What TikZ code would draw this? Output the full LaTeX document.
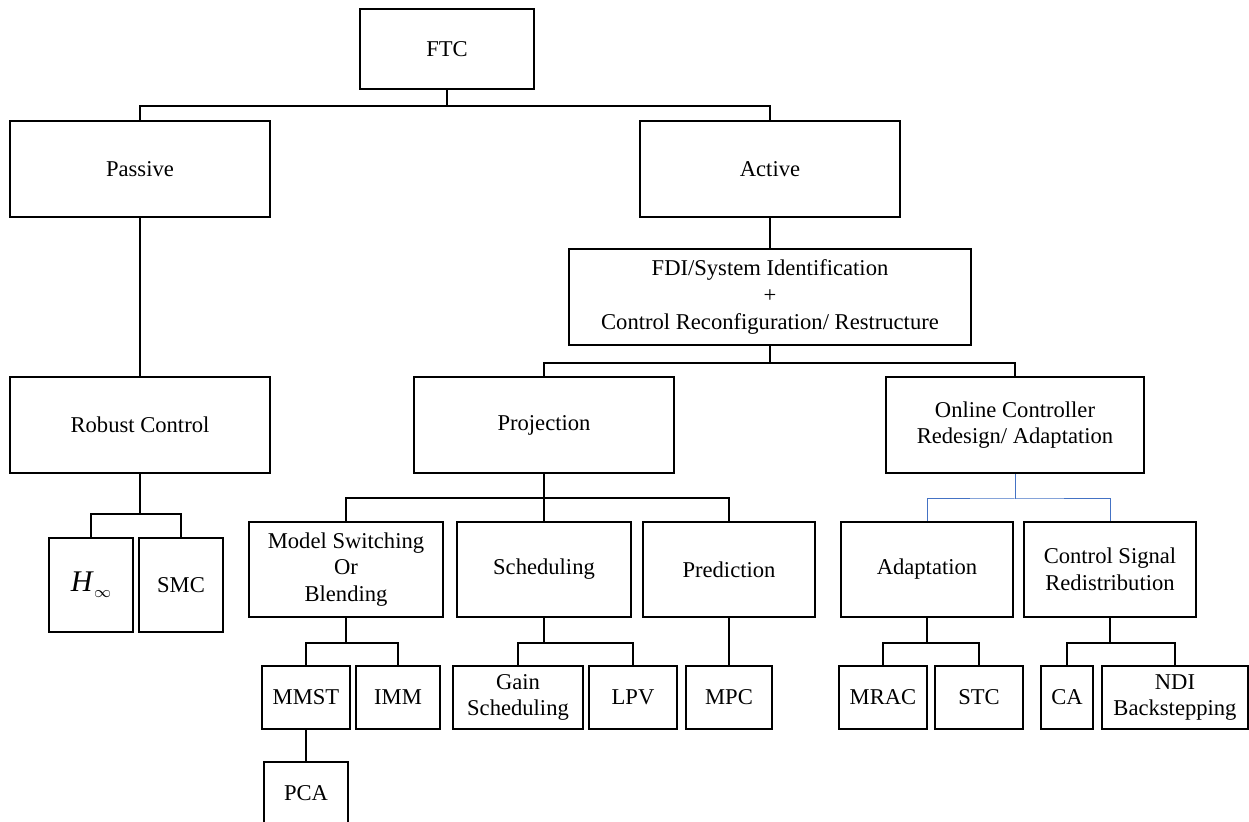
\documentclass[tikz,border=0pt]{standalone}
\usepackage{fontspec}
\setmainfont{Liberation Serif}
\usepackage{tikz}

\begin{document}
\begin{tikzpicture}[x=0.5pt,y=-0.5pt,
		blk/.style={draw, line width=1pt, align=center, inner sep=0pt,
			font=\fontsize{11.3}{13.3}\selectfont},
		lnk/.style={line width=1pt},
		bluelnk/.style={line width=0.5pt, draw=linkblue}]
		\definecolor{linkblue}{RGB}{68,114,196}
		\useasboundingbox (0,0) rectangle (1249,822);
		\clip (0,0) rectangle (1249,822);
		%\draw [help lines] (0,0) grid[step=50] (1249,822);
		\node [blk, minimum width=87pt, minimum height=40pt] (ftc) at (447,49) {FTC};
		\node [blk, minimum width=130pt, minimum height=48pt] (passive) at (140,169) {Passive};
		\node [blk, minimum width=130pt, minimum height=48pt] (active) at (770,169) {Active};
		\node [blk, minimum width=201pt, minimum height=48pt] (fdi) at (770,297) {FDI/System Identification\\+\\Control Reconfiguration/ Restructure};
		
		\node [blk, minimum width=130pt, minimum height=48pt] (robust) at (140,425) {Robust Control};
		\node [blk, minimum width=130pt, minimum height=48pt] (proj) at (544,425) {Projection};
		\node [blk, minimum width=129pt, minimum height=48pt] (online) at (1015,425) {Online Controller\\Redesign/ Adaptation};
		
		\node [blk, minimum width=42pt, minimum height=47pt] (hinf) at (91,585) {{\fontsize{15}{16}\selectfont\textit{H}}\raisebox{-0.6ex}{\fontsize{8}{8}\selectfont$\infty$}};
		\node [blk, minimum width=42pt, minimum height=47pt] (smc) at (181,585) {SMC};
		
		\node [blk, minimum width=97pt, minimum height=47.5pt] (msw) at (346,569.5) {Model Switching\\Or\\Blending};
		\node [blk, minimum width=87pt, minimum height=47.5pt] (sched) at (544,569.5) {Scheduling};
		\node [blk, minimum width=86pt, minimum height=47.5pt] (pred) at (729,569.5) {Prediction};
		\node [blk, minimum width=86pt, minimum height=47.5pt] (adapt) at (927,569.5) {Adaptation};
		\node [blk, minimum width=86pt, minimum height=47.5pt] (csr) at (1110,569.5) {Control Signal\\Redistribution};
		
		\node [blk, minimum width=44pt, minimum height=31.5pt] (mmst) at (306,697.5) {MMST};
		\node [blk, minimum width=42pt, minimum height=31.5pt] (imm) at (398,697.5) {IMM};
		\node [blk, minimum width=65pt, minimum height=31.5pt] (gain) at (518,697.5) {Gain\\Scheduling};
		\node [blk, minimum width=44pt, minimum height=31.5pt] (lpv) at (633,697.5) {LPV};
		\node [blk, minimum width=43pt, minimum height=31.5pt] (mpc) at (729,697.5) {MPC};
		\node [blk, minimum width=44pt, minimum height=31.5pt] (mrac) at (883,697.5) {MRAC};
		\node [blk, minimum width=44pt, minimum height=31.5pt] (stc) at (979,697.5) {STC};
		\node [blk, minimum width=26pt, minimum height=31.5pt] (ca) at (1067,697.5) {CA};
		\node [blk, minimum width=73pt, minimum height=31.5pt] (ndi) at (1175,697.5) {NDI\\Backstepping};
		\node [blk, minimum width=42pt, minimum height=31.5pt] (pca) at (306,793.5) {PCA};
		
		% tree links
		\draw [lnk] (ftc.south) -- ++(0,16) coordinate (b1);
		\draw [lnk] (passive.north) |- (b1) -| (active.north);
		\draw [lnk] (active) -- (fdi);
		\draw [lnk] (passive) -- (robust);
		\draw [lnk] (fdi.south) -- ++(0,17) coordinate (b2);
		\draw [lnk] (proj.north) |- (b2) -| (online.north);
		\draw [lnk] (robust.south) -- ++(0,40) coordinate (b3);
		\draw [lnk] (hinf.north) |- (b3) -| (smc.north);
		\draw [lnk] (proj.south) -- ++(0,24) coordinate (b4);
		\draw [lnk] (msw.north) |- (b4) -| (pred.north);
		\draw [lnk] (sched) -- (proj);
		\draw [bluelnk] (online.south) -- ++(0,25) coordinate (b5);
		\draw [bluelnk] (adapt.north) |- (b5) -| (csr.north);
		\draw [lnk] (msw.south) -- ++(0,25) coordinate (b6);
		\draw [lnk] (mmst.north) |- (b6) -| (imm.north);
		\draw [lnk] (sched.south) -- ++(0,25) coordinate (b7);
		\draw [lnk] (gain.north) |- (b7) -| (lpv.north);
		\draw [lnk] (pred) -- (mpc);
		\draw [lnk] (adapt.south) -- ++(0,25) coordinate (b8);
		\draw [lnk] (mrac.north) |- (b8) -| (stc.north);
		\draw [lnk] (csr.south) -- ++(0,25) coordinate (b9);
		\draw [lnk] (ca.north) |- (b9) -| (ndi.north);
		\draw [lnk] (mmst) -- (pca);
	\end{tikzpicture}
\end{document}
